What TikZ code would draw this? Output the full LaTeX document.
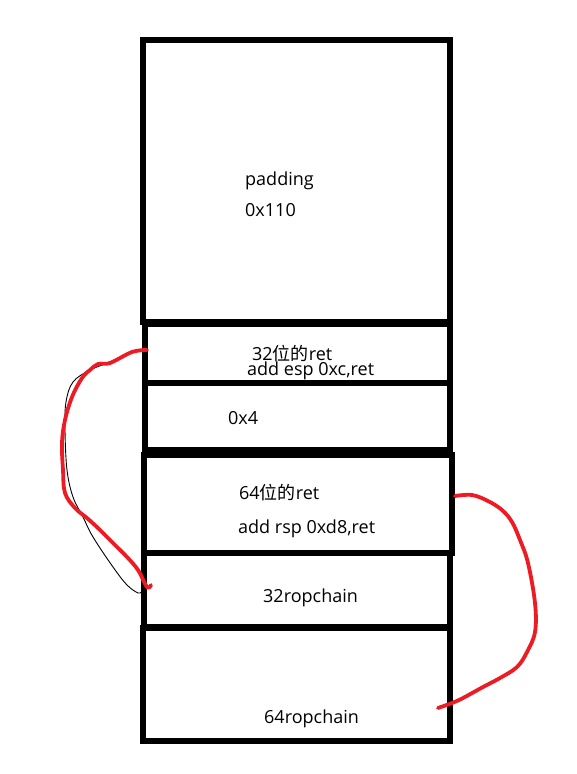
\documentclass[tikz,border=0pt]{standalone}
\usepackage{fontspec}
\setmainfont{Open Sans}
\newfontfamily\cjk{Noto Sans CJK SC}
\definecolor{paintred}{RGB}{237,28,36}
\begin{document}
\begin{tikzpicture}[x=1pt,y=-1pt,
  box/.style={draw=black, line width=5.5pt, inner sep=0pt, outer sep=0pt, anchor=north west},
  lbl/.style={inner sep=0pt, anchor=base west, font=\fontsize{18}{20}\selectfont, text=black},
  redline/.style={draw=paintred, line width=3.8pt, line cap=round, line join=round},
  thinline/.style={draw=black, line width=0.9pt}]
\useasboundingbox (0,0) rectangle (577,774);
\fill[white] (0,0) rectangle (577,774);
% boxes
\node[box, minimum width=307pt, minimum height=282pt] (b1) at (143,40) {};
\node[box, minimum width=305pt, minimum height=59pt] (b2) at (145,324) {};
\node[box, minimum width=305pt, minimum height=67pt] (b3) at (145,383) {};
\node[box, minimum width=308pt, minimum height=98pt] (b4) at (144,455) {};
\node[box, minimum width=306pt, minimum height=74pt] (b5) at (144,553) {};
\node[box, minimum width=307pt, minimum height=113pt] (b6) at (143,628) {};
% texts
\node[lbl] (t1) at (245,185) {padding};
\node[lbl] (t2) at (245,216) {0x110};
\node[lbl] (t3) at (252,360) {32{\cjk 位的}ret};
\node[lbl] (t4) at (247,375) {add esp 0xc,ret};
\node[lbl] (t5) at (228,424) {0x4};
\node[lbl] (t6) at (239,499) {64{\cjk 位的}ret};
\node[lbl] (t7) at (238,533) {add rsp 0xd8,ret};
\node[lbl] (t8) at (263,602) {32ropchain};
\node[lbl] (t9) at (264,723) {64ropchain};
% curve end points
\coordinate (ls) at (147,350);
\coordinate (le) at (151,585);
\coordinate (ks) at (130,352);
\coordinate (ke) at (141,592);
\coordinate (rs) at (455,496);
\coordinate (re) at (438,708);
% thin black curve
\draw[thinline] plot[smooth, tension=0.6] coordinates {(ks) (110,362) (90,370) (73,382) (66,402) (65,430) (67,470) (73,497) (83,517) (93,537) (113,567) (127,585) (138,593) (ke)};
% left red curve
\draw[redline] plot[smooth, tension=0.6] coordinates {(ls) (132,352) (110,363) (98,364) (90,370) (82,378) (72,397) (65,420) (62,443) (63,470) (65,493) (75,508) (87,518) (100,530) (115,545) (127,557) (138,570) (147,587) (le)};
% right red curve
\draw[redline] plot[smooth, tension=0.6] coordinates {(rs) (472,495) (488,501) (502,510) (512,522) (520,540) (528,563) (535,603) (535,632) (527,652) (517,667) (500,678) (483,687) (463,698) (452,703) (re)};
\end{tikzpicture}
\end{document}
